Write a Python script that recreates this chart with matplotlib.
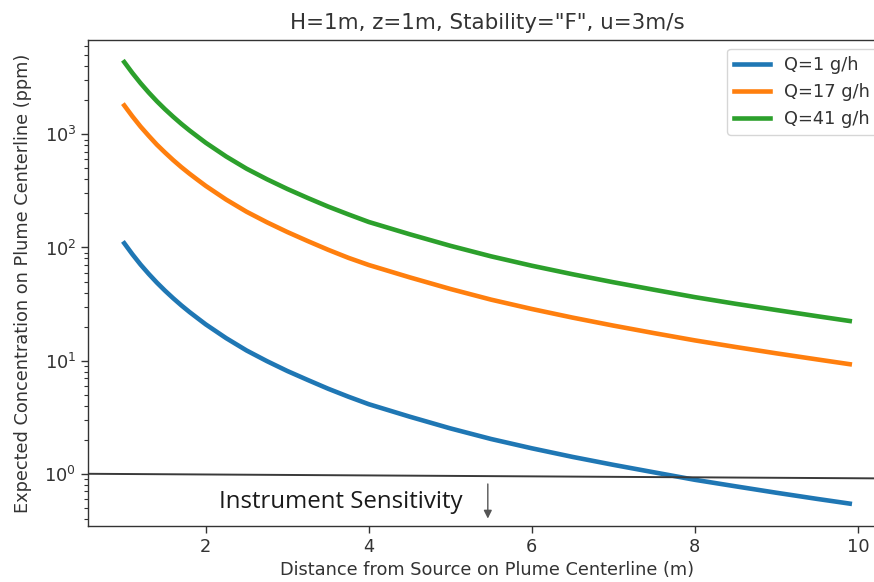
import matplotlib
matplotlib.use("Agg")
import matplotlib.pyplot as plt
from matplotlib.transforms import Bbox

# distance from source (m)
distance = [1.0, 1.1, 1.2, 1.3, 1.4, 1.5, 1.6, 1.7, 1.8, 1.9,
            2.0, 2.25, 2.5, 2.75, 3.0, 3.25, 3.5, 3.75, 4.0, 4.5,
            5.0, 5.5, 6.0, 6.5, 7.0, 7.5, 8.0, 8.5, 9.0, 9.5, 9.9]

# expected centerline concentration (ppm)
conc_q1 = [109, 87, 70.6, 58.4, 48.9, 41.5, 35.6, 30.8, 26.9, 23.7,
           20.9, 15.8, 12.3, 9.9, 8.1, 6.75, 5.65, 4.8, 4.12, 3.2,
           2.52, 2.03, 1.68, 1.41, 1.2, 1.03, 0.885, 0.775, 0.68, 0.6, 0.545]
conc_q17 = [1800, 1440, 1170, 970, 810, 690, 592, 513, 449, 396,
            350, 265, 207, 167, 137, 114, 95.5, 81, 70, 54.5,
            43, 34.6, 28.6, 24, 20.4, 17.5, 15.1, 13.2, 11.6, 10.25, 9.3]
conc_q41 = [4350, 3480, 2830, 2340, 1960, 1665, 1430, 1238, 1082, 954,
            842, 637, 497, 401, 329, 274, 230, 196, 168, 131,
            103.5, 83.5, 69, 58, 49.3, 42.3, 36.4, 31.8, 28, 24.7, 22.4]

labels = ["Q=1 g/h", "Q=17 g/h", "Q=41 g/h"]
colors = ["#1f77b4", "#ff7f0e", "#2ca02c"]

sensitivity = [1.0, 0.91]   # hand-drawn line, slightly tilted
arrow_x = 5.46
arrow_y = [0.86, 0.38]

TXT = "#333333"
plt.rcParams["font.family"] = "DejaVu Sans"
plt.rcParams["text.color"] = TXT
plt.rcParams["axes.labelcolor"] = TXT
plt.rcParams["xtick.color"] = TXT
plt.rcParams["ytick.color"] = TXT

# the original is cropped on the right, so draw wider and crop on save
W, H = 920, 582
fig = plt.figure(figsize=(W / 100, H / 100), dpi=100)
ax = fig.add_axes([88 / W, 1 - 525.7 / H, (886 - 88) / W, (525.7 - 40) / H])

for ys, lab, c in zip([conc_q1, conc_q17, conc_q41], labels, colors):
    ax.plot(distance, ys, color=c, lw=3.3, label=lab)
ax.set_yscale("log")

xlo, xhi = ax.get_xlim()
ax.plot([xlo, xhi], sensitivity, color="#3a3a3a", lw=1.4)
ax.set_xlim(xlo, xhi)

ax.text(2.16, 0.56, "Instrument Sensitivity", family="Open Sans", fontsize=17.3,
        color="#1a1a1a", va="center", ha="left")
ax.annotate("", xy=(arrow_x, arrow_y[1]), xytext=(arrow_x, arrow_y[0]),
            arrowprops=dict(arrowstyle="-|>", color="#555555", lw=1.0, mutation_scale=12))

ax.set_title('H=1m, z=1m, Stability="F", u=3m/s', fontsize=15.4, pad=8)
ax.set_xlabel("Distance from Source on Plume Centerline (m)", fontsize=12.8)
ax.set_ylabel("Expected Concentration on Plume Centerline (ppm)", fontsize=12.8, labelpad=9)
ax.tick_params(labelsize=12.8, width=1.0, length=5)
ax.tick_params(which="minor", width=0.8, length=3)
for s in ax.spines.values():
    s.set_color("#333333")
    s.set_linewidth(1.0)

ax.legend(loc="upper right", fontsize=12.8)

fig.savefig("out.png", dpi=100, bbox_inches=Bbox.from_bounds(0, 0, 8.74, 5.82))
